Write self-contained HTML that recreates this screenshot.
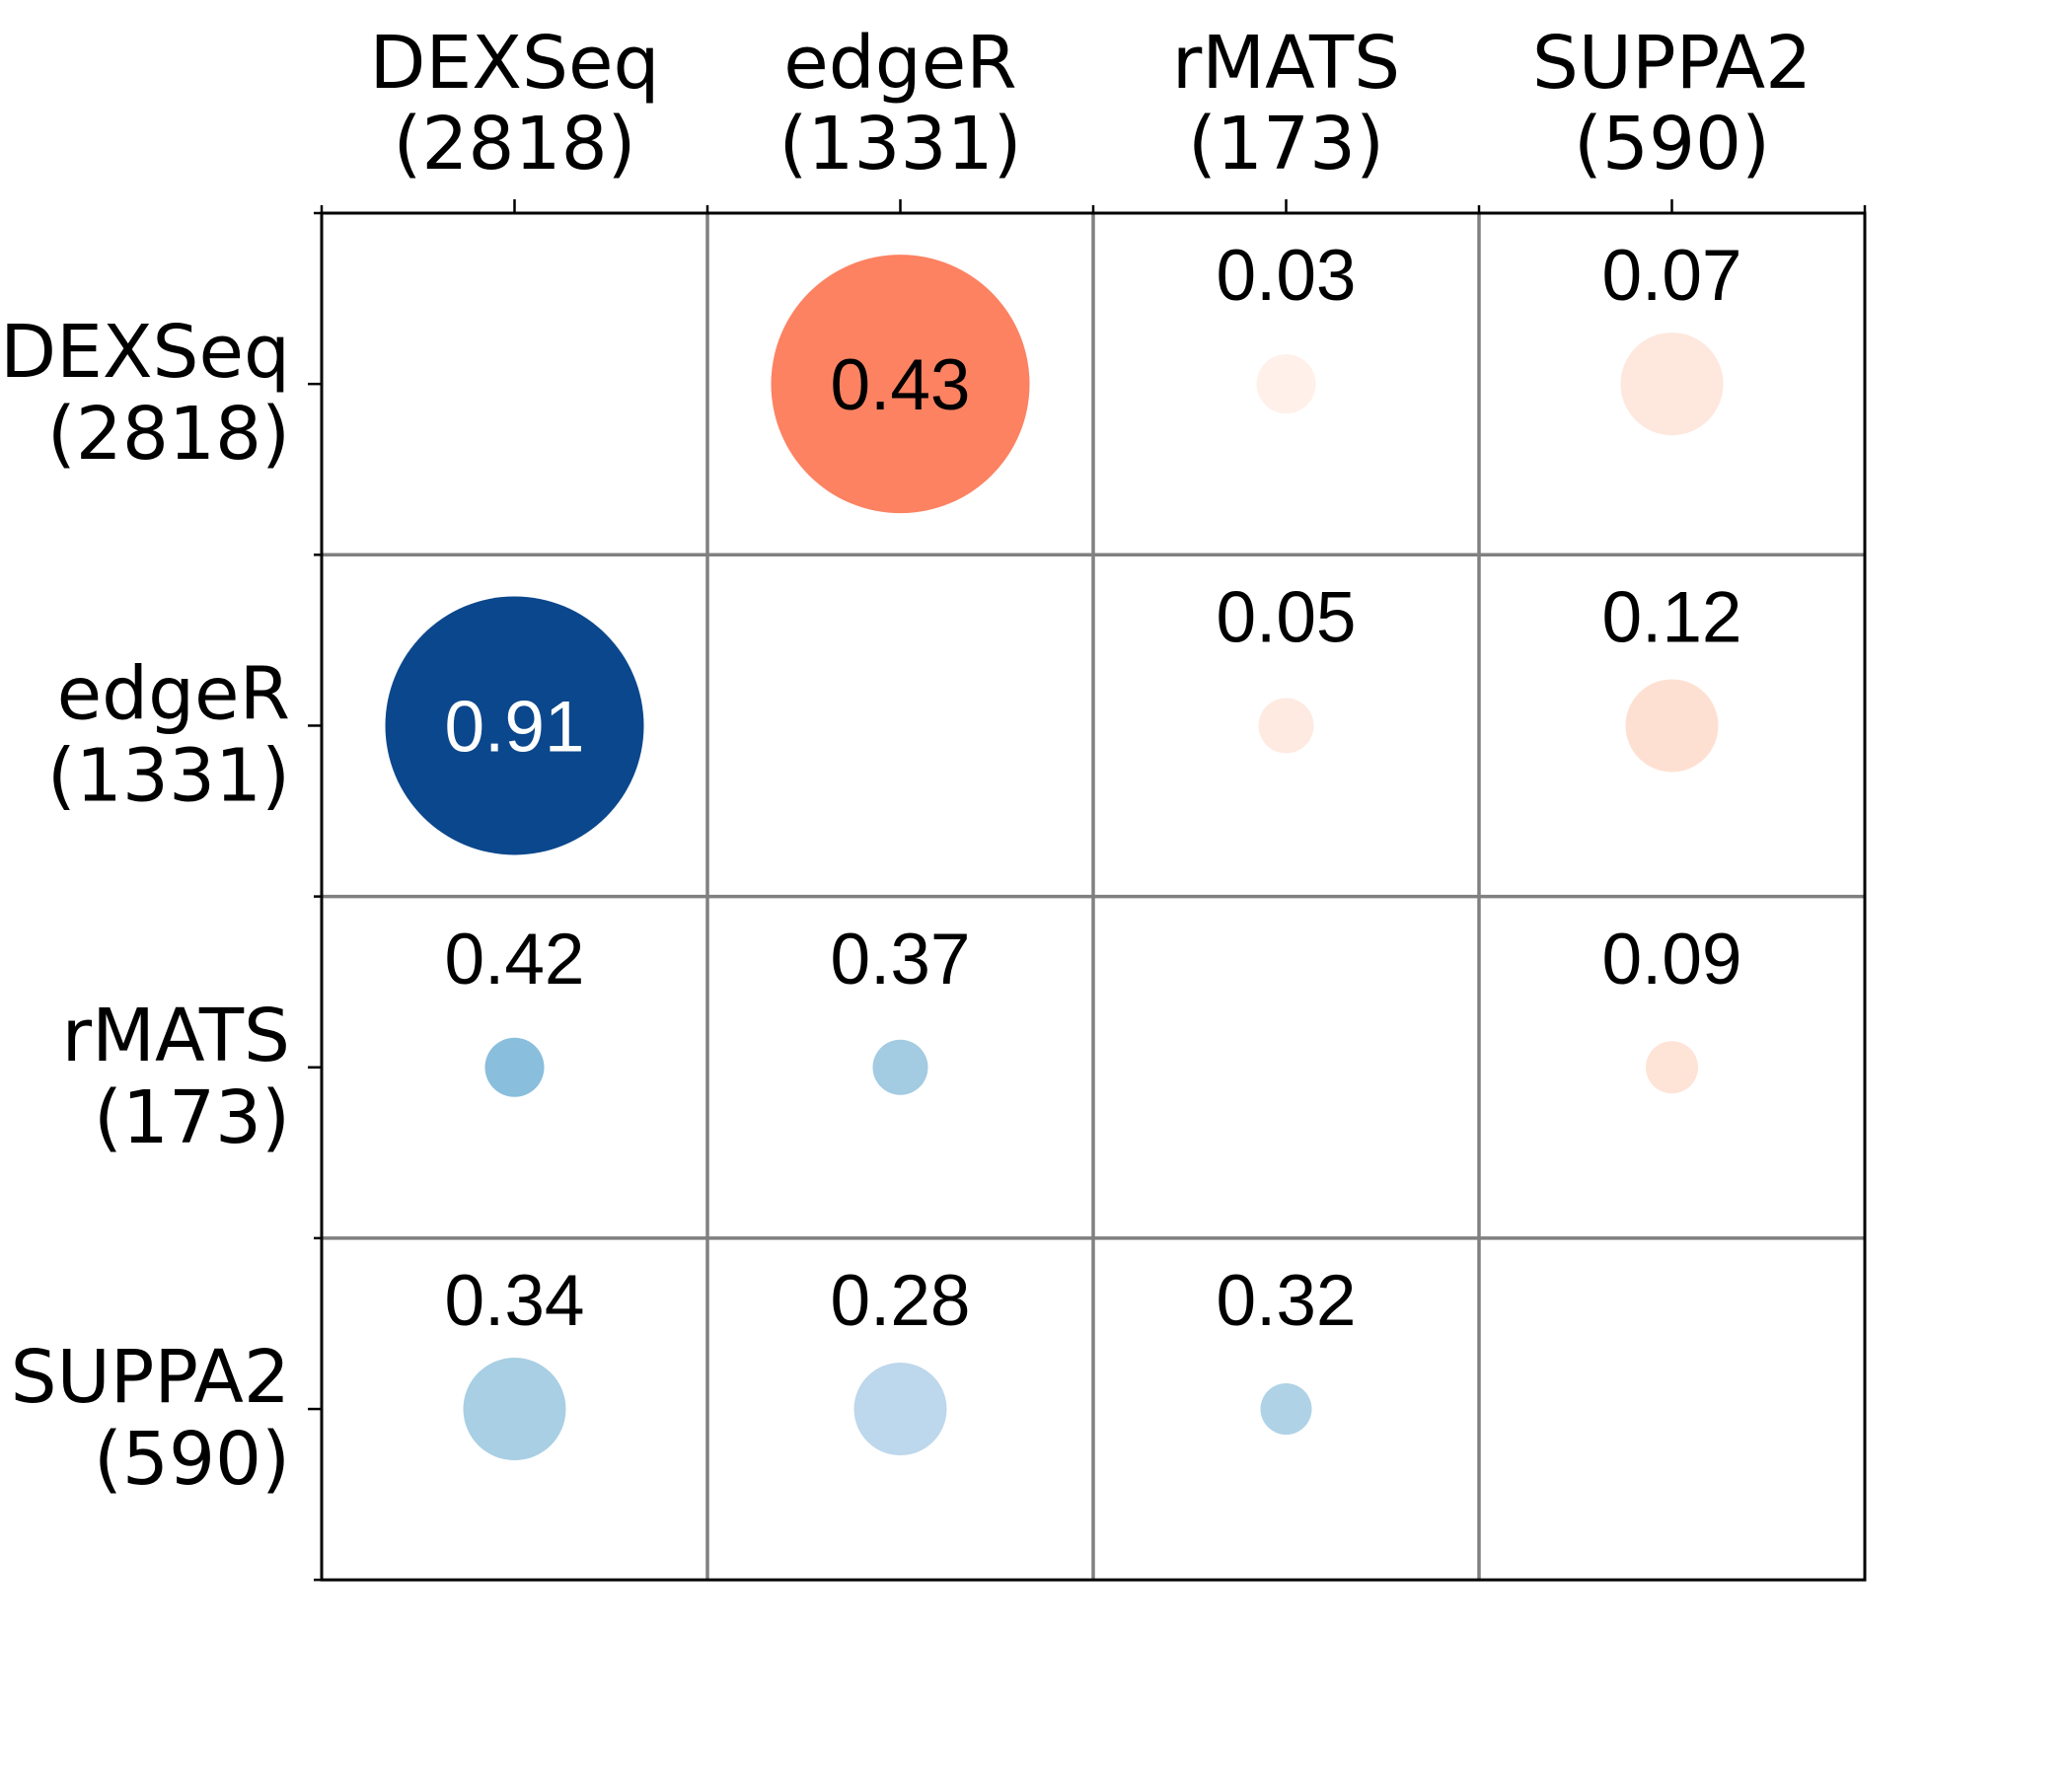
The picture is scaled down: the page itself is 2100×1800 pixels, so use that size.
<!DOCTYPE html>
<html><head><meta charset="utf-8"><style>
html,body{margin:0;padding:0;background:#fff;}
svg{display:block;}
.ax{font-family:"DejaVu Sans","Liberation Sans",sans-serif;font-size:74px;fill:#000;}
.val{font-family:"Liberation Sans","DejaVu Sans",sans-serif;font-size:73px;}
</style></head><body>
<svg id="chart" width="2100" height="1800" viewBox="0 0 2100 1800" xmlns="http://www.w3.org/2000/svg">
<rect width="2100" height="1800" fill="#fff"/>
<g id="grid"></g>
<g id="marks"></g>
<g id="labels"></g>
</svg>
<script>
const methods = ["DEXSeq","edgeR","rMATS","SUPPA2"];
const counts = ["2818","1331","173","590"];
// matrix values [row][col]; null = diagonal
const values = [
  [null,0.43,0.03,0.07],
  [0.91,null,0.05,0.12],
  [0.42,0.37,null,0.09],
  [0.34,0.28,0.32,null]
];
// circle radii (pixels ~ marker size)
const radii = [
  [0,131,30,52],
  [131,0,28,47],
  [30,28,0,26.5],
  [52,47,26,0]
];
const fills = [
  [null,"#fc8262","#fff0e9","#fee7dc"],
  ["#0b478c",null,"#feeae1","#fee0d2"],
  ["#89bedc","#a3cbe2",null,"#fee3d7"],
  ["#a8cfe4","#bdd7ec","#b0d2e7",null]
];
const X0=326, Y0=216, CW=391, CH=346.3;
const xc = j => X0 + CW*(j+0.5);
const yc = i => Y0 + CH*(i+0.5);
const NS="http://www.w3.org/2000/svg";
function mk(tag, attrs, parent){const e=document.createElementNS(NS,tag);for(const k in attrs)e.setAttribute(k,attrs[k]);parent.appendChild(e);return e;}
const grid=document.getElementById('grid'), marks=document.getElementById('marks'), labels=document.getElementById('labels');
const N=methods.length, X1=X0+CW*N, Y1=Y0+CH*N;
for(let k=1;k<N;k++){
  let l=mk('line',{x1:X0+CW*k,y1:Y0,x2:X0+CW*k,y2:Y1,stroke:'#808080','stroke-width':3.5},grid);
  
  
  l=mk('line',{x1:X0,y1:Y0+CH*k,x2:X1,y2:Y0+CH*k,stroke:'#808080','stroke-width':3.5},grid);
  
  
}
const fr=mk('rect',{x:X0,y:Y0,width:CW*N,height:CH*N,fill:'none',stroke:'#000','stroke-width':3},grid);


for(let k=0;k<=N;k++){
  let t=mk('line',{x1:X0+CW*k,y1:Y0-8,x2:X0+CW*k,y2:Y0,stroke:'#000','stroke-width':2.5},grid);
  
  
  t=mk('line',{x1:X0-8,y1:Y0+CH*k,x2:X0,y2:Y0+CH*k,stroke:'#000','stroke-width':2.5},grid);
  
  
}
for(let k=0;k<N;k++){
  let t=mk('line',{x1:xc(k),y1:Y0-14,x2:xc(k),y2:Y0,stroke:'#000','stroke-width':2.5},grid);
  
  
  t=mk('line',{x1:X0-14,y1:yc(k),x2:X0,y2:yc(k),stroke:'#000','stroke-width':2.5},grid);
  
  
  let tx=mk('text',{x:xc(k),y:89,'text-anchor':'middle',class:'ax'},labels);
  tx.textContent=methods[k];
  
  
  tx=mk('text',{x:xc(k),y:171,'text-anchor':'middle',class:'ax'},labels);
  tx.textContent='('+counts[k]+')';
  
  
  tx=mk('text',{x:294,y:yc(k)-7,'text-anchor':'end',class:'ax'},labels);
  tx.textContent=methods[k];
  
  
  tx=mk('text',{x:294,y:yc(k)+76,'text-anchor':'end',class:'ax'},labels);
  tx.textContent='('+counts[k]+')';
  
  
}
for(let i=0;i<N;i++)for(let j=0;j<N;j++){
  const v=values[i][j]; if(v===null) continue;
  const r=radii[i][j];
  const c=mk('circle',{cx:xc(j),cy:yc(i),r:r,fill:fills[i][j]},marks);
  
  
  const big = r>100;
  const t=mk('text',{x:xc(j),y: big ? yc(i)+26 : yc(i)-85,'text-anchor':'middle',class:'val',fill: (big && v>0.6)?'#fff':'#000'},marks);
  t.textContent=v.toFixed(2);
  
  
}
</script>
</body></html>
